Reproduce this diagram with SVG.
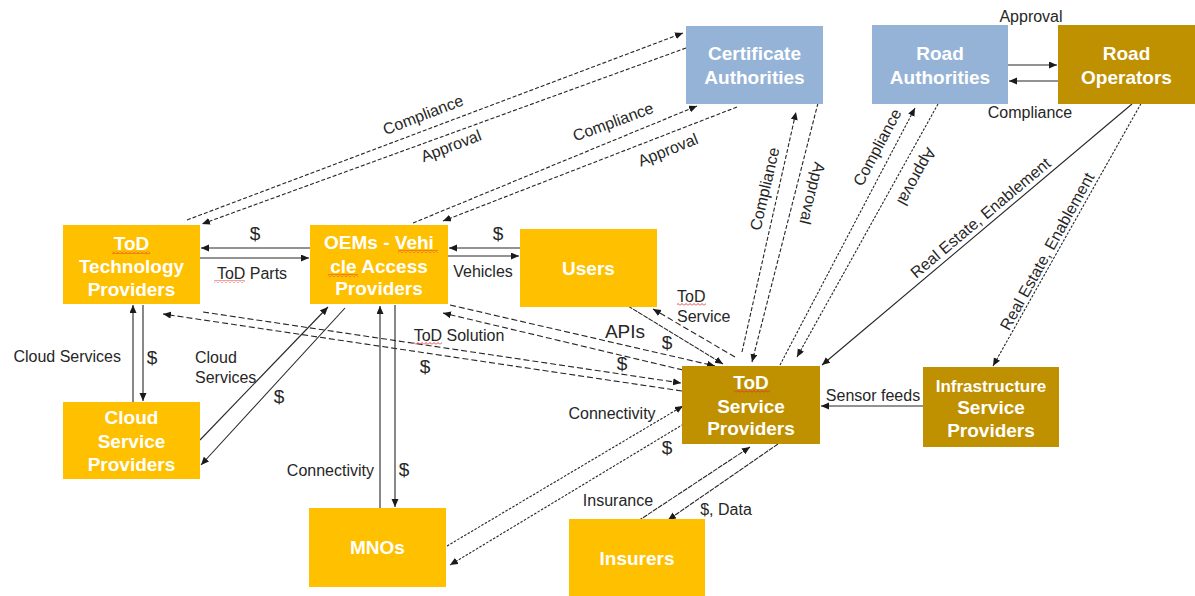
<svg xmlns="http://www.w3.org/2000/svg" width="1195" height="596" viewBox="0 0 1195 596">
<defs>
<marker id="ah" markerUnits="userSpaceOnUse" markerWidth="9" markerHeight="8" refX="8" refY="3.5" orient="auto">
<path d="M0,0 L8,3.5 L0,7 z" fill="#1a1a1a"/>
</marker>
<pattern id="squig" patternUnits="userSpaceOnUse" width="4" height="3">
<path d="M0,2.5 L2,0.5 L4,2.5" fill="none" stroke="#e03030" stroke-width="0.9"/>
</pattern>
<style>
.yel{fill:#ffc000}
.gold{fill:#bf9000}
.blue{fill:#95b3d7}
.nt{font-family:"Liberation Sans",Arial,sans-serif;font-weight:bold;font-size:19px;fill:#fff;text-anchor:middle}
.lb{font-family:"Liberation Sans",Arial,sans-serif;font-size:16px;fill:#262626;text-anchor:middle}
.dl{font-family:"Liberation Sans",Arial,sans-serif;font-size:19px;fill:#262626;text-anchor:middle}
.c{fill:none;stroke:#262626;stroke-width:1.1;marker-end:url(#ah)}
.d1{stroke-dasharray:4 2}
.d2{stroke-dasharray:6 3}
.d3{stroke-dasharray:2.5 1.5}
.d4{stroke-dasharray:5 1}
.sq{fill:url(#squig)}
</style>
</defs>
<rect width="1195" height="596" fill="#fff"/>

<g id="connectors">
<line class="c d1" x1="187" y1="220" x2="683" y2="33"/>
<line class="c d1" x1="686" y1="48" x2="202" y2="224"/>
<line class="c d1" x1="413" y1="223" x2="697" y2="106"/>
<line class="c d1" x1="737" y1="107" x2="443" y2="221"/>
<line class="c d1" x1="742" y1="352" x2="796" y2="112"/>
<line class="c d1" x1="818" y1="103" x2="752" y2="362"/>
<line class="c d3" x1="780" y1="365" x2="915" y2="108"/>
<line class="c d3" x1="938" y1="104" x2="797" y2="357"/>
<line class="c" x1="1132" y1="104" x2="822" y2="365"/>
<line class="c d3" x1="1143" y1="100" x2="993" y2="366"/>
<line class="c" x1="923" y1="406" x2="821" y2="406"/>
<line class="c" x1="1008" y1="65" x2="1057" y2="65"/>
<line class="c" x1="1058" y1="81" x2="1009" y2="81"/>
<line class="c" x1="310" y1="248" x2="201" y2="248"/>
<line class="c" x1="200" y1="258" x2="309" y2="258"/>
<line class="c" x1="520" y1="248" x2="449" y2="248"/>
<line class="c" x1="448" y1="256" x2="519" y2="256"/>
<line class="c" x1="133" y1="402" x2="133" y2="305"/>
<line class="c" x1="143" y1="305" x2="143" y2="401"/>
<line class="c" x1="200" y1="440" x2="328" y2="307"/>
<line class="c" x1="345" y1="308" x2="201" y2="465"/>
<line class="c" x1="380" y1="508" x2="380" y2="306"/>
<line class="c" x1="395" y1="305" x2="395" y2="507"/>
<line class="c d2" x1="682" y1="391" x2="163" y2="314"/>
<line class="c d2" x1="203" y1="312" x2="681" y2="383"/>
<line class="c d2" x1="450" y1="305" x2="715" y2="366"/>
<line class="c d2" x1="683" y1="370" x2="443" y2="313"/>
<line class="c d4" x1="628" y1="306" x2="723" y2="364"/>
<line class="c d2" x1="735" y1="357" x2="653" y2="309"/>
<line class="c d3" x1="447" y1="546" x2="683" y2="406"/>
<line class="c d3" x1="687" y1="422" x2="450" y2="565"/>
<line class="c d4" x1="638" y1="521" x2="750" y2="447"/>
<line class="c d4" x1="778" y1="444" x2="668" y2="520"/>
</g>

<g id="labels">
<text class="lb" transform="translate(425,120) rotate(-21)">Compliance</text>
<text class="lb" transform="translate(453,151) rotate(-21)">Approval</text>
<text class="lb" transform="translate(615,127) rotate(-20)">Compliance</text>
<text class="lb" transform="translate(670,155) rotate(-22)">Approval</text>
<text class="lb" transform="translate(770,190) rotate(-77)">Compliance</text>
<text class="lb" transform="translate(807,192) rotate(104)">Approval</text>
<text class="lb" transform="translate(882,150) rotate(-62)">Compliance</text>
<text class="lb" transform="translate(912,174) rotate(119)">Approval</text>
<text class="lb" transform="translate(984,222) rotate(-40)">Real Estate, Enablement</text>
<text class="lb" transform="translate(1052,254) rotate(-61)">Real Estate, Enablement</text>
<text class="lb" x="1031" y="22">Approval</text>
<text class="lb" x="1030" y="118">Compliance</text>
<text class="lb" x="873" y="401">Sensor feeds</text>
<text class="dl" x="255" y="240">$</text>
<text class="lb" x="252" y="279">ToD Parts</text>
<text class="dl" x="498" y="240">$</text>
<text class="lb" x="483" y="277">Vehicles</text>
<text class="lb" x="121" y="362" style="text-anchor:end">Cloud Services</text>
<text class="dl" x="152" y="364">$</text>
<text class="lb" x="195" y="363" style="text-anchor:start">Cloud</text>
<text class="lb" x="195" y="383" style="text-anchor:start">Services</text>
<text class="dl" x="279" y="403">$</text>
<text class="lb" x="374" y="476" style="text-anchor:end">Connectivity</text>
<text class="dl" x="404" y="476">$</text>
<text class="lb" x="459" y="341">ToD Solution</text>
<text class="dl" x="425" y="373">$</text>
<text class="dl" x="625" y="338">APIs</text>
<text class="dl" x="667" y="349">$</text>
<text class="dl" x="622" y="370">$</text>
<text class="lb" x="677" y="302" style="text-anchor:start">ToD</text>
<text class="lb" x="677" y="322" style="text-anchor:start">Service</text>
<text class="lb" x="612" y="419">Connectivity</text>
<text class="dl" x="667" y="454">$</text>
<text class="lb" x="618" y="506">Insurance</text>
<text class="lb" x="726" y="515">$, Data</text>
</g>

<g id="certAuthorities">
<rect class="blue" x="686" y="26" width="137" height="78"/>
<text class="nt" x="754.5" y="60">Certificate</text>
<text class="nt" x="754.5" y="84">Authorities</text>
</g>
<g id="roadAuthorities">
<rect class="blue" x="872" y="25" width="136" height="79"/>
<text class="nt" x="940" y="60">Road</text>
<text class="nt" x="940" y="84">Authorities</text>
</g>
<g id="roadOperators">
<rect class="gold" x="1058" y="25" width="137" height="79"/>
<text class="nt" x="1126.5" y="60">Road</text>
<text class="nt" x="1126.5" y="84">Operators</text>
</g>
<g id="todTechnologyProviders">
<rect class="yel" x="63" y="225" width="137" height="79"/>
<text class="nt" x="131.5" y="250">ToD</text>
<text class="nt" x="131.5" y="273">Technology</text>
<text class="nt" x="131.5" y="296">Providers</text>
</g>
<g id="oems">
<rect class="yel" x="310" y="225" width="138" height="79"/>
<text class="nt" x="379" y="249">OEMs - Vehi</text>
<text class="nt" x="379" y="273">cle Access</text>
<text class="nt" x="379" y="295">Providers</text>
</g>
<g id="users">
<rect class="yel" x="520" y="229" width="137" height="78"/>
<text class="nt" x="588.5" y="275">Users</text>
</g>
<g id="todServiceProviders">
<rect class="gold" x="682" y="366" width="138" height="78"/>
<text class="nt" x="751" y="389">ToD</text>
<text class="nt" x="751" y="413">Service</text>
<text class="nt" x="751" y="435">Providers</text>
</g>
<g id="infrastructureServiceProviders">
<rect class="gold" x="923" y="367" width="136" height="80"/>
<text class="nt" x="991" y="392" style="font-size:17px">Infrastructure</text>
<text class="nt" x="991" y="414">Service</text>
<text class="nt" x="991" y="437">Providers</text>
</g>
<g id="cloudServiceProviders">
<rect class="yel" x="63" y="402" width="137" height="77"/>
<text class="nt" x="131.5" y="424">Cloud</text>
<text class="nt" x="131.5" y="448">Service</text>
<text class="nt" x="131.5" y="471">Providers</text>
</g>
<g id="mnos">
<rect class="yel" x="309" y="508" width="137" height="79"/>
<text class="nt" x="377.5" y="554">MNOs</text>
</g>
<g id="insurers">
<rect class="yel" x="569" y="519" width="136" height="78"/>
<text class="nt" x="637" y="565">Insurers</text>
</g>

<g id="spellcheck">
<rect class="sq" x="112" y="251" width="38" height="3"/>
<rect class="sq" x="398" y="250" width="40" height="3"/>
<rect class="sq" x="328" y="274" width="30" height="3"/>
<rect class="sq" x="214" y="280" width="31" height="3"/>
<rect class="sq" x="413" y="342" width="29" height="3"/>
<rect class="sq" x="677" y="303" width="29" height="3"/>
<rect class="sq" x="734" y="390" width="36" height="3"/>
</g>
</svg>
